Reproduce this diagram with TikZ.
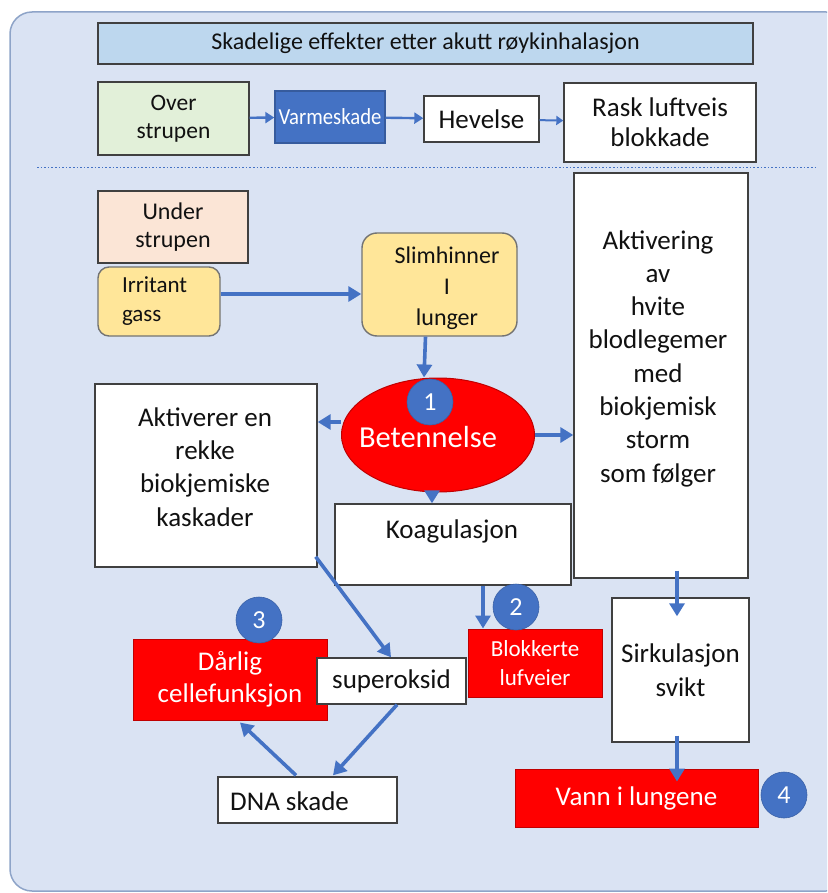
\documentclass[tikz,border=0pt]{standalone}
\usepackage{fontspec}
\setmainfont{Carlito}
\usetikzlibrary{arrows.meta,shapes.geometric,calc}

\definecolor{panelbg}{HTML}{DAE3F3}
\definecolor{panelline}{HTML}{8EA4C8}
\definecolor{accent}{HTML}{4472C4}
\definecolor{titlefill}{HTML}{BDD7EE}
\definecolor{greenfill}{HTML}{E2F0D9}
\definecolor{peachfill}{HTML}{FBE5D6}
\definecolor{yellowfill}{HTML}{FFE699}
\definecolor{boxline}{HTML}{404040}
\definecolor{alertred}{HTML}{FF0000}
\definecolor{alertline}{HTML}{C00000}
\definecolor{ink}{HTML}{111111}

\newcommand{\fsz}[2]{\fontsize{#1}{#2}\selectfont}

\tikzset{
  box/.style={draw=boxline, line width=1.4pt, fill=white, inner sep=0pt,
              align=center, text=ink, font=\fsz{27}{33}},
  redbox/.style={draw=alertline, line width=1pt, fill=alertred, inner sep=0pt,
                 align=center, text=white, font=\fsz{27}{32}},
  softbox/.style={box, fill=yellowfill, draw=black!55, rounded corners=11pt},
  badge/.style={circle, fill=accent, draw=accent!85!black, line width=0.6pt,
                minimum size=46pt, inner sep=0pt, text=white, font=\fsz{26}{30}},
  boxtext/.style={inner sep=0pt, align=center, text=ink, font=\fsz{27}{33.3}},
  arr/.style={draw=accent, line width=3.6pt, -{Triangle[length=13pt,width=15pt]}},
  thinarr/.style={draw=accent, line width=2.4pt, -{Triangle[length=9pt,width=11pt]}},
  tinyarr/.style={draw=accent, line width=2pt, -{Triangle[length=7pt,width=9pt]}},
}

\begin{document}
\begin{tikzpicture}[x=1pt, y=-1pt]
  \useasboundingbox (0,0) rectangle (827,893);
  \clip (0,0) rectangle (827,893);

  % background panel
  \draw[fill=panelbg, draw=panelline, line width=1.5pt, rounded corners=22pt]
    (10,12) rectangle (848,891);

  % header and upper airway row
  \node[box, fill=titlefill, minimum width=655pt, minimum height=41pt, font=\fsz{24}{28}]
    (title) at (425.5,43.5) {Skadelige effekter etter akutt røykinhalasjon};
  \node[box, fill=greenfill, minimum width=151pt, minimum height=73pt, font=\fsz{23.5}{28}]
    (over) at (173.5,118.5) {Over\\strupen};
  \node[box, fill=accent, draw=accent!80!black, text=white, minimum width=110pt,
        minimum height=52pt, font=\fsz{23}{26}]
    (varme) at (330,117) {\scalebox{0.9}[1]{Varmeskade}};
  \node[box, minimum width=115pt, minimum height=46pt]
    (hevelse) at (481.5,119) {Hevelse};
  \node[box, minimum width=192pt, minimum height=79pt, font=\fsz{27}{30}]
    (rask) at (660,122.5) {Rask luftveis\\blokkade};

  % separator
  \coordinate (sepL) at (37,167.5);
  \coordinate (sepR) at (815,167.5);
  \draw[accent, line width=1.8pt, dash pattern=on 1.6pt off 2pt] (sepL) -- (sepR);

  % lower airway
  \node[box, fill=peachfill, minimum width=150pt, minimum height=72pt, font=\fsz{24}{28}]
    (under) at (173,227) {Under\\strupen};
  \node[softbox, text width=74pt, inner xsep=24pt, minimum height=69pt,
        align=left, font=\fsz{23}{29}]
    (irritant) at (159,301.5) {Irritant\\gass};
  \node[softbox, minimum width=155pt, minimum height=103pt, rounded corners=15pt]
    (slim) at (439.5,284.5) {};
  \node[boxtext, font=\fsz{24}{31}] (slimText) at (447,288) {Slimhinner\\I\\lunger};

  % inflammation
  \node[ellipse, fill=alertred, draw=alertline, line width=1pt,
        minimum width=193pt, minimum height=114pt, inner sep=0pt]
    (betennelse) at (438,435) {};
  \node[boxtext, text=white, font=\fsz{30.5}{34}] (betennelseText) at (428,437) {Betennelse};
  \node[badge] (n1) at (430,402) {1};

  % reaction boxes
  \node[box, minimum width=222pt, minimum height=183pt] (aktiverer) at (206,475.5) {};
  \node[boxtext] (aktivererText) at (205,467)
    {Aktiverer en\\rekke\\biokjemiske\\kaskader};

  \node[box, minimum width=174pt, minimum height=405pt] (aktivering) at (661,375.5) {};
  \node[boxtext] (aktiveringText) at (658,358.5)
    {Aktivering\\av\\hvite\\blodlegemer\\med\\biokjemisk\\storm\\som følger};

  \node[box, minimum width=236pt, minimum height=81pt] (koag) at (453,544.5) {};
  \node[boxtext] (koagText) at (452,531) {Koagulasjon};

  % consequences
  \node[redbox, minimum width=194pt, minimum height=81pt] (darlig) at (230,679.5)
    {Dårlig\\cellefunksjon};
  \node[box, minimum width=149pt, minimum height=46pt] (superoksid) at (391.5,681) {superoksid};
  \node[box, minimum width=179pt, minimum height=46pt] (dna) at (307.5,800) {};
  \node[boxtext, anchor=west] (dnaText) at (230,801) {DNA skade};
  \node[redbox, minimum width=134pt, minimum height=68pt, font=\fsz{23}{29}]
    (blokkert) at (535,663) {Blokkerte\\lufveier};
  \node[box, minimum width=137pt, minimum height=144pt, font=\fsz{27}{34}]
    (sirk) at (680.5,670) {Sirkulasjon\\svikt};
  \node[redbox, minimum width=243pt, minimum height=58pt] (vann) at (636.5,798) {Vann i lungene};

  \node[badge] (n2) at (516,607) {2};
  \node[badge] (n3) at (259,620) {3};
  \node[badge] (n4) at (784,795) {4};

  % connectors, upper row
  \draw[thinarr] (over) -- (varme);
  \draw[thinarr] (varme) -- (hevelse);
  \draw[tinyarr] (hevelse) -- (rask);

  % connectors, lower part
  \draw[arr] ([yshift=7.5pt]irritant.east) -- ([yshift=-9.5pt]slim.west);
  \draw[arr] ([xshift=-14pt]slim.south) -- ([xshift=-14pt]betennelse.north);
  \draw[arr] ([yshift=13pt]betennelse.west) -- ([yshift=53.5pt]aktiverer.east);
  \draw[arr] (betennelse.east) -- ([yshift=-59.5pt]aktivering.west);
  \draw[arr] ([xshift=-6pt]betennelse.south) -- ([xshift=-21pt]koag.north);
  \draw[arr] ([xshift=-2pt,yshift=11pt]aktiverer.south east) -- ([xshift=-0.5pt]superoksid.north);
  \draw[arr] ([xshift=30pt]koag.south) -- ([xshift=-52pt]blokkert.north);
  \draw[arr] ([xshift=5.5pt]superoksid.south) -- ([xshift=25.5pt,yshift=1pt]dna.north);
  \draw[arr] ([xshift=-11.5pt,yshift=1pt]dna.north) -- ([xshift=10pt,yshift=-2pt]darlig.south);
  \draw[arr] ([xshift=16pt,yshift=8pt]aktivering.south) -- ([xshift=-3.5pt,yshift=-19pt]sirk.north);
  \draw[arr] ([xshift=-3.5pt,yshift=7pt]sirk.south) -- ([xshift=40.5pt,yshift=-13pt]vann.north);
\end{tikzpicture}
\end{document}
